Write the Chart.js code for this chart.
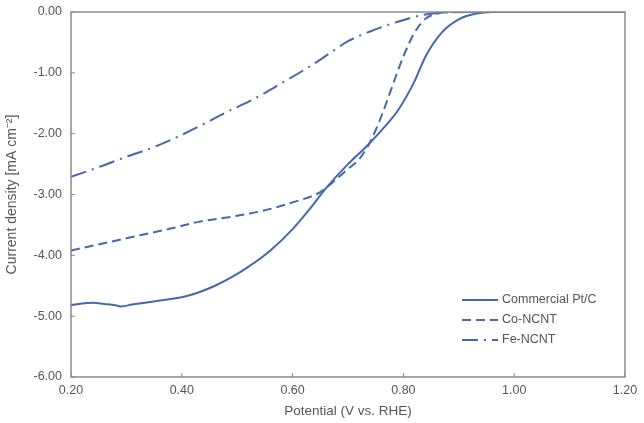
<!DOCTYPE html>
<html>
<head>
<meta charset="utf-8">
<script src="https://cdn.jsdelivr.net/npm/chart.js@4"></script>
<style>
  html, body { margin: 0; padding: 0; background: #fff; }
  #wrap { width: 644px; height: 423px; }
</style>
</head>
<body>
<div id="wrap"><canvas id="chart"></canvas></div>
<script>
// ---- data (V vs. RHE, mA cm^-2) ----
const ptcPotential = [0.20, 0.22, 0.24, 0.26, 0.28, 0.29, 0.31, 0.34, 0.37, 0.40, 0.43, 0.46, 0.49, 0.52, 0.56, 0.60, 0.63, 0.66, 0.70, 0.73, 0.76, 0.79, 0.82, 0.84, 0.87, 0.90, 0.93, 0.96, 1.00, 1.10, 1.20];
const ptcCurrent   = [-4.82, -4.79, -4.78, -4.80, -4.82, -4.84, -4.81, -4.77, -4.73, -4.69, -4.61, -4.50, -4.36, -4.19, -3.92, -3.57, -3.25, -2.90, -2.50, -2.24, -1.95, -1.62, -1.14, -0.73, -0.33, -0.12, -0.03, 0.00, 0.00, 0.00, 0.00];

const coPotential = [0.20, 0.30, 0.38, 0.43, 0.50, 0.55, 0.60, 0.65, 0.68, 0.70, 0.72, 0.735, 0.75, 0.765, 0.78, 0.80, 0.82, 0.84, 0.86, 0.89, 1.00, 1.20];
const coCurrent   = [-3.92, -3.72, -3.56, -3.45, -3.35, -3.26, -3.13, -2.96, -2.74, -2.58, -2.42, -2.22, -1.94, -1.60, -1.22, -0.73, -0.34, -0.11, -0.03, 0.00, 0.00, 0.00];

const fePotential = [0.20, 0.25, 0.30, 0.35, 0.40, 0.44, 0.48, 0.53, 0.58, 0.63, 0.67, 0.70, 0.74, 0.79, 0.84, 0.88, 0.92, 1.00, 1.20];
const feCurrent   = [-2.71, -2.55, -2.38, -2.22, -2.02, -1.84, -1.65, -1.43, -1.17, -0.90, -0.66, -0.48, -0.32, -0.16, -0.04, -0.01, 0.00, 0.00, 0.00];

const seriesLabels = ['Commercial Pt/C', 'Co-NCNT', 'Fe-NCNT'];
const xTicks = [0.20, 0.40, 0.60, 0.80, 1.00, 1.20];
const yTicks = [-6, -5, -4, -3, -2, -1, 0];

const LINE = '#4767aa';
const TEXT = '#555';
const FONT = "'Liberation Sans', Arial, sans-serif";

const toPoints = (xs, ys) => xs.map((x, i) => ({ x, y: ys[i] }));

// frame, inner tick marks and legend inside the plot
const framePlugin = {
    id: 'frame',
    afterDraw(chart) {
        const { ctx, chartArea: a, scales } = chart;
        ctx.save();
        ctx.strokeStyle = '#8a8a8a';
        ctx.lineWidth = 1.5;
        ctx.strokeRect(a.left, a.top, a.right - a.left, a.bottom - a.top);

        ctx.lineWidth = 1;
        ctx.beginPath();
        xTicks.forEach(v => {
            const px = scales.x.getPixelForValue(v);
            ctx.moveTo(px, a.bottom);
            ctx.lineTo(px, a.bottom - 4);
        });
        yTicks.forEach(v => {
            const py = scales.y.getPixelForValue(v);
            ctx.moveTo(a.left, py);
            ctx.lineTo(a.left + 4, py);
        });
        ctx.stroke();

        // legend
        const lx = 462, ly = 300, rowH = 20;
        chart.data.datasets.forEach((ds, i) => {
            const y = ly + i * rowH;
            ctx.strokeStyle = ds.borderColor;
            ctx.lineWidth = 2;
            ctx.setLineDash(ds.borderDash || []);
            ctx.beginPath();
            ctx.moveTo(lx, y);
            ctx.lineTo(lx + 36, y);
            ctx.stroke();
            ctx.setLineDash([]);
            ctx.fillStyle = TEXT;
            ctx.font = `12.5px ${FONT}`;
            ctx.textBaseline = 'middle';
            ctx.fillText(ds.label, lx + 40, y);
        });
        ctx.restore();
    }
};

const baseDs = {
    borderColor: LINE,
    borderWidth: 2,
    pointRadius: 0,
    fill: false,
    cubicInterpolationMode: 'monotone'
};

new Chart(document.getElementById('chart'), {
    type: 'line',
    data: {
        datasets: [
            { ...baseDs, label: seriesLabels[0], data: toPoints(ptcPotential, ptcCurrent) },
            { ...baseDs, label: seriesLabels[1], data: toPoints(coPotential, coCurrent), borderDash: [9, 5] },
            { ...baseDs, label: seriesLabels[2], data: toPoints(fePotential, feCurrent), borderDash: [16, 6, 2, 6] }
        ]
    },
    options: {
        responsive: true,
        maintainAspectRatio: false,
        animation: false,
        layout: { padding: { top: 12, right: 19, left: 2, bottom: 0 } },
        plugins: { legend: { display: false }, tooltip: { enabled: false } },
        scales: {
            x: {
                type: 'linear',
                min: 0.2,
                max: 1.2,
                afterBuildTicks: s => { s.ticks = xTicks.map(v => ({ value: v })); },
                afterFit: s => { s.height = 46; s.paddingLeft = 0; s.paddingRight = 0; },
                grid: { display: false, drawTicks: false },
                border: { display: false },
                ticks: {
                    color: TEXT,
                    font: { family: FONT, size: 12.5 },
                    padding: 6,
                    maxRotation: 0,
                    callback: v => v.toFixed(2)
                },
                title: {
                    display: true,
                    text: 'Potential (V vs. RHE)',
                    color: TEXT,
                    font: { family: FONT, size: 13.5 },
                    padding: { top: 1 }
                }
            },
            y: {
                min: -6,
                max: 0,
                afterBuildTicks: s => { s.ticks = yTicks.map(v => ({ value: v })); },
                afterFit: s => { s.width = 69; s.paddingTop = 0; s.paddingBottom = 0; },
                grid: { display: false, drawTicks: false },
                border: { display: false },
                ticks: {
                    color: TEXT,
                    font: { family: FONT, size: 12.5 },
                    padding: 9,
                    callback: v => v.toFixed(2)
                },
                title: {
                    display: true,
                    text: 'Current density [mA cm\u207B\u00B2]',
                    color: TEXT,
                    font: { family: FONT, size: 14 },
                    padding: { top: 2 }
                }
            }
        }
    },
    plugins: [framePlugin]
});
</script>
</body>
</html>
